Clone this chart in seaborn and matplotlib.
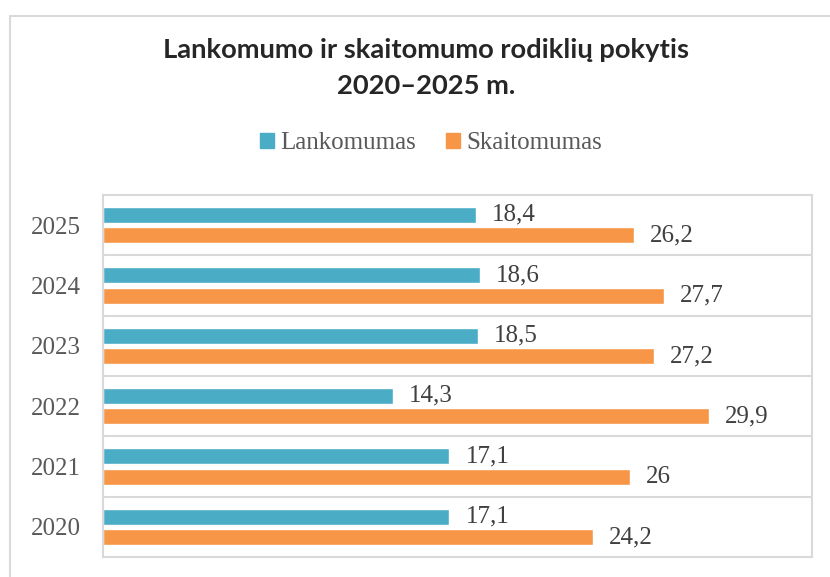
import matplotlib
matplotlib.use("Agg")
import matplotlib.pyplot as plt
from matplotlib.patches import Rectangle
import seaborn as sns
import pandas as pd

years = ["2025", "2024", "2023", "2022", "2021", "2020"]
lankomumas = [18.4, 18.6, 18.5, 14.3, 17.1, 17.1]
skaitomumas = [26.2, 27.7, 27.2, 29.9, 26.0, 24.2]
series = ["Lankomumas", "Skaitomumas"]
colors = ["#4BACC6", "#F79646"]
title = "Lankomumo ir skaitomumo rodiklių pokytis\n2020–2025 m."

df = pd.DataFrame({"year": years, series[0]: lankomumas, series[1]: skaitomumas})
long = df.melt(id_vars="year", var_name="rodiklis", value_name="value")

sns.set_theme(style="white")
serif = ["Liberation Serif", "DejaVu Serif"]

fig = plt.figure(figsize=(8.3, 5.77), dpi=100)
W, H = 830, 577
ax = fig.add_axes([103 / W, 1 - 557 / H, (812 - 103) / W, (557 - 195) / H])

sns.barplot(
    data=long,
    y="year",
    x="value",
    hue="rodiklis",
    order=years,
    hue_order=series,
    palette=dict(zip(series, colors)),
    saturation=1,
    orient="h",
    width=0.68,
    gap=0.22,
    ax=ax,
    legend=False,
)

ax.set_xlim(0, 35)
ax.set_xlabel("")
ax.set_ylabel("")
ax.set_xticks([])

# category separators
ax.set_yticks([i + 0.5 for i in range(len(years) - 1)], minor=True)
ax.grid(which="minor", axis="y", color="#d9d9d9", linewidth=1.5)
ax.tick_params(axis="y", which="both", length=0, pad=16, labelcolor="#595959")
for lab in ax.get_yticklabels():
    lab.set_fontfamily(serif)
    lab.set_fontsize(18)

for sp in ax.spines.values():
    sp.set_visible(True)
    sp.set_color("#d9d9d9")
    sp.set_linewidth(1.5)

for cont in ax.containers:
    ax.bar_label(
        cont,
        fmt=lambda v: f"{v:g}".replace(".", ","),
        padding=11.5,
        fontsize=18,
        color="#404040",
        family=serif,
    )

handles = [Rectangle((0, 0), 1, 1, color=c) for c in colors]
fig.legend(
    handles,
    series,
    loc="center",
    bbox_to_anchor=(431 / W, 1 - 143 / H),
    ncol=2,
    frameon=False,
    prop={"family": serif, "size": 18},
    labelcolor="#595959",
    handlelength=0.55,
    handleheight=0.55,
    handletextpad=0.25,
    columnspacing=1.2,
)

fig.text(
    426 / W,
    1 - 68 / H,
    title,
    ha="center",
    va="center",
    fontsize=19.7,
    fontweight="bold",
    family=["Lato", "DejaVu Sans"],
    linespacing=1.6,
)

# outer chart border
fig.patches.append(
    Rectangle(
        (10 / W, -0.1), 1.2, 1 - 16 / H + 0.1,
        transform=fig.transFigure, fill=False,
        edgecolor="#d9d9d9", linewidth=1.5, zorder=0,
    )
)

fig.savefig("out.png", dpi=100)
